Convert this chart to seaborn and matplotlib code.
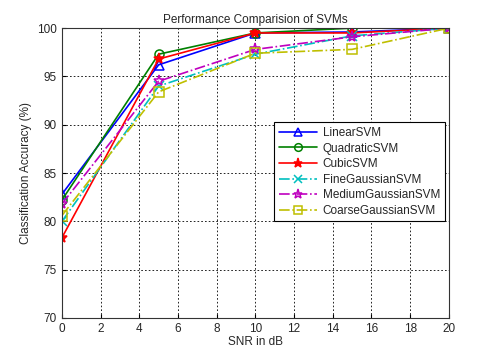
import numpy as np
import pandas as pd
import matplotlib
matplotlib.use("Agg")
import matplotlib.pyplot as plt
import seaborn as sns

snr = [0, 5, 10, 15, 20]
linear_svm = [82.8, 96.2, 99.5, 99.6, 100]
quadratic_svm = [82.2, 97.3, 99.5, 100, 100]
cubic_svm = [78.3, 96.8, 99.5, 99.5, 100]
fine_gauss = [80.0, 94.0, 97.3, 99.2, 100]
medium_gauss = [81.8, 94.5, 97.8, 99.1, 100]
coarse_gauss = [80.6, 93.4, 97.4, 97.8, 100]

names = ['LinearSVM', 'QuadraticSVM', 'CubicSVM',
         'FineGaussianSVM', 'MediumGaussianSVM', 'CoarseGaussianSVM']
series = [linear_svm, quadratic_svm, cubic_svm, fine_gauss, medium_gauss, coarse_gauss]

styles = {
    'LinearSVM': dict(color='#0000ff', marker='^', ls='-', mfc='none'),
    'QuadraticSVM': dict(color='#008000', marker='o', ls='-', mfc='none'),
    'CubicSVM': dict(color='#ff0000', marker='*', ls='-', mfc='#ff0000'),
    'FineGaussianSVM': dict(color='#00bfbf', marker='x', ls='-.', mfc='none'),
    'MediumGaussianSVM': dict(color='#bf00bf', marker='*', ls='-.', mfc='none'),
    'CoarseGaussianSVM': dict(color='#bfbf00', marker='s', ls='-.', mfc='none'),
}

df = pd.DataFrame({
    'snr': snr * len(names),
    'acc': sum(series, []),
    'model': np.repeat(names, len(snr)),
})

sns.set_style('ticks')
plt.rcParams['font.family'] = ['Liberation Sans', 'DejaVu Sans']

fig = plt.figure(figsize=(4.8, 3.56), dpi=100)
ax = fig.add_axes([0.129, 0.107, 0.806, 0.814])

for name in names:
    st = styles[name]
    sub = df[df['model'] == name]
    sns.lineplot(data=sub, x='snr', y='acc', ax=ax, label=name,
                 color=st['color'], linestyle=st['ls'], linewidth=1.2,
                 marker=st['marker'], markersize=6.5 if st['marker'] != '*' else 8,
                 markerfacecolor=st['mfc'], markeredgecolor=st['color'],
                 markeredgewidth=1.1)

ax.set_xlim(0, 20)
ax.set_ylim(70, 100)
ax.set_xticks(range(0, 21, 2))
ax.set_yticks(range(70, 101, 5))
ax.grid(True, color='black', linestyle=(0, (2, 2.5)), linewidth=0.6)
ax.tick_params(labelsize=8.5, direction='in', length=3, color='black')
for s in ax.spines.values():
    s.set_color('#333333')
    s.set_linewidth(0.8)

ax.set_title('Performance Comparision of SVMs', fontsize=8.5, pad=4)
ax.set_xlabel('SNR in dB', fontsize=8.5, labelpad=1)
ax.set_ylabel('Classification Accuracy (%)', fontsize=8.5)

leg = ax.legend(loc='upper right', bbox_to_anchor=(0.99, 0.675), fontsize=8.5,
                frameon=True, fancybox=False, edgecolor='black', framealpha=1,
                handlelength=3.2, handletextpad=0.5, borderaxespad=0,
                labelspacing=0.3, borderpad=0.4, markerscale=0.85)
leg.get_frame().set_linewidth(0.8)

fig.savefig('out.png', dpi=100)
